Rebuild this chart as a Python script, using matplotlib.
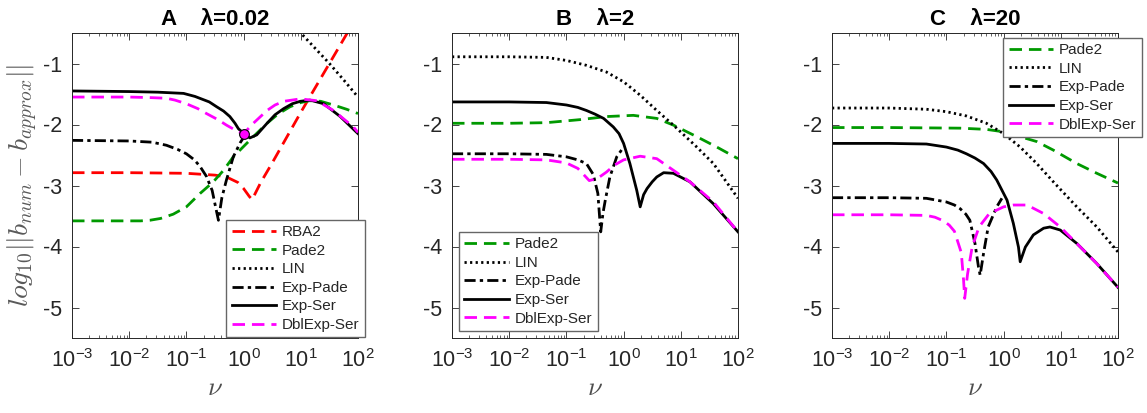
import numpy as np
import matplotlib
matplotlib.use('Agg')
import matplotlib.pyplot as plt
from matplotlib.ticker import LogLocator

plt.rcParams['font.family'] = ['Liberation Sans', 'DejaVu Sans']
plt.rcParams['mathtext.fontset'] = 'custom'
plt.rcParams['mathtext.rm'] = 'Liberation Sans'
plt.rcParams['mathtext.it'] = 'Liberation Sans:italic'
plt.rcParams['mathtext.bf'] = 'Liberation Sans:bold'

#%% data (log10 of nu, log10 of error)

# panel A, lambda=0.02
A_rba2_x = [-3, -2, -1, -0.5, -0.3, -0.1, 0.0, 0.1, 0.15, 0.3, 0.5, 1.0, 1.5, 2.0]
A_rba2_y = [-2.79, -2.79, -2.80, -2.83, -2.86, -2.95, -3.05, -3.18, -3.23, -2.95, -2.63, -1.80, -1.0, -0.2]
A_pade_x = [-3, -2, -1.8, -1.64, -1.45, -1.23, -1.0, -0.76, -0.53, -0.35, -0.18, 0.0, 0.17, 0.41, 0.6, 0.81, 1.0, 1.15, 1.35, 1.57, 1.8, 2.0]
A_pade_y = [-3.58, -3.58, -3.58, -3.57, -3.54, -3.47, -3.35, -3.13, -2.94, -2.75, -2.53, -2.36, -2.20, -1.98, -1.83, -1.71, -1.64, -1.61, -1.62, -1.68, -1.75, -1.82]
A_lin_x = [0.9, 1.0, 1.25, 1.5, 1.75, 2.0]
A_lin_y = [-0.40, -0.50, -0.75, -1.0, -1.27, -1.55]
A_exppade_x = [-3, -2, -1.6, -1.35, -1.15, -1.0, -0.86, -0.76, -0.65, -0.55, -0.49, -0.44, -0.38, -0.30, -0.18, -0.06, 0.03]
A_exppade_y = [-2.26, -2.27, -2.29, -2.34, -2.41, -2.48, -2.58, -2.69, -2.85, -3.08, -3.35, -3.57, -3.20, -2.91, -2.53, -2.30, -2.17]
A_expser_x = [-3, -2, -1.5, -1.05, -0.85, -0.6, -0.47, -0.35, -0.24, -0.15, -0.09, 0.03, 0.11, 0.23, 0.41, 0.55, 0.70, 0.85, 0.99, 1.16, 1.40, 1.69, 2.0]
A_expser_y = [-1.45, -1.46, -1.47, -1.49, -1.54, -1.63, -1.71, -1.78, -1.87, -1.98, -2.07, -2.17, -2.22, -2.17, -1.98, -1.84, -1.74, -1.66, -1.62, -1.60, -1.66, -1.87, -2.15]
A_dbl_x = [-3, -2, -1.6, -1.35, -1.2, -1.0, -0.8, -0.65, -0.45, -0.30, -0.15, -0.06, 0.0, 0.17, 0.41, 0.55, 0.70, 0.99, 1.28, 1.57, 1.92, 2.0]
A_dbl_y = [-1.55, -1.55, -1.56, -1.57, -1.60, -1.66, -1.74, -1.82, -1.92, -2.01, -2.09, -2.13, -2.15, -1.98, -1.77, -1.68, -1.62, -1.58, -1.61, -1.77, -2.04, -2.13]
A_dot_x = [0.0]
A_dot_y = [-2.15]

# panel B, lambda=2
B_pade_x = [-3, -2, -1.35, -0.76, -0.30, 0.17, 0.58, 0.87, 1.28, 1.63, 2.0]
B_pade_y = [-1.98, -1.98, -1.97, -1.92, -1.87, -1.85, -1.90, -2.01, -2.20, -2.37, -2.56]
B_lin_x = [-3, -2, -1.35, -1.0, -0.65, -0.30, 0.0, 0.29, 0.58, 0.87, 1.28, 1.57, 2.0]
B_lin_y = [-0.89, -0.89, -0.90, -0.95, -1.03, -1.14, -1.30, -1.52, -1.77, -2.01, -2.37, -2.64, -3.21]
B_exppade_x = [-3, -2, -1.35, -1.0, -0.8, -0.65, -0.53, -0.45, -0.42, -0.40, -0.36, -0.32, -0.24, -0.12, 0.0]
B_exppade_y = [-2.48, -2.48, -2.49, -2.53, -2.58, -2.64, -2.82, -3.13, -3.51, -3.76, -3.45, -3.24, -2.86, -2.53, -2.37]
B_expser_x = [-3, -2, -1.35, -1.0, -0.8, -0.65, -0.5, -0.35, -0.18, -0.08, 0.0, 0.11, 0.23, 0.29, 0.35, 0.41, 0.50, 0.58, 0.70, 0.87, 1.16, 1.57, 2.0]
B_expser_y = [-1.63, -1.63, -1.64, -1.68, -1.72, -1.77, -1.83, -1.90, -2.04, -2.15, -2.31, -2.64, -3.08, -3.35, -3.15, -3.05, -2.94, -2.86, -2.79, -2.80, -2.94, -3.30, -3.76]
B_dbl_x = [-3, -2, -1.35, -1.0, -0.80, -0.60, -0.45, -0.30, -0.15, 0.0, 0.29, 0.58, 0.87, 1.16, 1.57, 2.0]
B_dbl_y = [-2.57, -2.57, -2.58, -2.63, -2.72, -2.92, -2.88, -2.78, -2.66, -2.58, -2.52, -2.56, -2.75, -2.94, -3.27, -3.76]

# panel C, lambda=20
C_pade_x = [-3, -2, -0.76, -0.30, 0.0, 0.29, 0.58, 0.87, 1.28, 1.63, 2.0]
C_pade_y = [-2.05, -2.05, -2.06, -2.08, -2.12, -2.20, -2.28, -2.42, -2.64, -2.80, -2.96]
C_lin_x = [-3, -2, -1.35, -1.0, -0.65, -0.30, 0.0, 0.29, 0.58, 0.87, 1.28, 1.63, 2.0]
C_lin_y = [-1.73, -1.73, -1.75, -1.79, -1.86, -1.98, -2.15, -2.37, -2.64, -2.94, -3.35, -3.68, -4.09]
C_exppade_x = [-3, -2, -1.35, -1.0, -0.86, -0.76, -0.66, -0.59, -0.50, -0.44, -0.41, -0.35, -0.27, -0.12, -0.03]
C_exppade_y = [-3.20, -3.20, -3.21, -3.27, -3.32, -3.38, -3.47, -3.57, -3.95, -4.33, -4.47, -4.11, -3.68, -3.35, -3.21]
C_expser_x = [-3, -2, -1.35, -1.0, -0.8, -0.65, -0.5, -0.35, -0.22, -0.12, 0.06, 0.17, 0.26, 0.29, 0.38, 0.52, 0.70, 0.81, 0.99, 1.28, 1.63, 2.0]
C_expser_y = [-2.31, -2.31, -2.32, -2.37, -2.42, -2.48, -2.55, -2.64, -2.77, -2.91, -3.24, -3.62, -4.01, -4.25, -4.01, -3.81, -3.70, -3.68, -3.73, -3.95, -4.28, -4.67]
C_dbl_x = [-3, -2, -1.35, -1.2, -1.05, -0.95, -0.86, -0.74, -0.70, -0.68, -0.63, -0.55, -0.43, -0.25, 0.0, 0.17, 0.41, 0.70, 0.99, 1.28, 1.63, 2.0]
C_dbl_y = [-3.48, -3.48, -3.49, -3.52, -3.58, -3.65, -3.75, -4.10, -4.55, -4.85, -4.45, -4.01, -3.68, -3.46, -3.35, -3.32, -3.32, -3.46, -3.68, -3.95, -4.28, -4.67]

titles = ['A    \u03bb=0.02', 'B    \u03bb=2', 'C    \u03bb=20']

#%% styles
red = (1, 0, 0)
green = (0, 0.6, 0)
mag = (1, 0, 1)
dash = (0, (4.5, 2.5))
dot = (0, (0.8, 1.2))
dashdot = (0, (4.0, 1.5, 1.2, 1.5))
lw = 2.0
gray = (0.15, 0.15, 0.15)


def curve(ax, xs, ys, **kw):
    ax.plot(10.0 ** np.array(xs), ys, lw=lw, **kw)


fig = plt.figure(figsize=(11.47, 4.13), dpi=100)
lefts = [72 / 1147, 452 / 1147, 832 / 1147]
axs = [fig.add_axes([l, 75 / 413, 286 / 1147, 305 / 413]) for l in lefts]
leg_kw = dict(fontsize=11, labelspacing=0.3, handlelength=2.9, handletextpad=0.4,
              borderpad=0.35, borderaxespad=0, fancybox=False, framealpha=1,
              edgecolor=(0.4, 0.4, 0.4))

ax = axs[0]
curve(ax, A_rba2_x, A_rba2_y, color=red, ls=dash, label='RBA2')
curve(ax, A_pade_x, A_pade_y, color=green, ls=dash, label='Pade2')
curve(ax, A_lin_x, A_lin_y, color='k', ls=dot, label='LIN')
curve(ax, A_exppade_x, A_exppade_y, color='k', ls=dashdot, label='Exp-Pade')
curve(ax, A_expser_x, A_expser_y, color='k', ls='-', label='Exp-Ser')
curve(ax, A_dbl_x, A_dbl_y, color=mag, ls=dash, label='DblExp-Ser')
ax.plot(10.0 ** np.array(A_dot_x), A_dot_y, 'o', ms=7, mfc=mag, mec='k', mew=0.8)
ax.legend(loc='lower right', bbox_to_anchor=(1.025, 0.002), **leg_kw)

ax = axs[1]
curve(ax, B_pade_x, B_pade_y, color=green, ls=dash, label='Pade2')
curve(ax, B_lin_x, B_lin_y, color='k', ls=dot, label='LIN')
curve(ax, B_exppade_x, B_exppade_y, color='k', ls=dashdot, label='Exp-Pade')
curve(ax, B_expser_x, B_expser_y, color='k', ls='-', label='Exp-Ser')
curve(ax, B_dbl_x, B_dbl_y, color=mag, ls=dash, label='DblExp-Ser')
ax.legend(loc='lower left', bbox_to_anchor=(0.024, 0.023), **leg_kw)

ax = axs[2]
curve(ax, C_pade_x, C_pade_y, color=green, ls=dash, label='Pade2')
curve(ax, C_lin_x, C_lin_y, color='k', ls=dot, label='LIN')
curve(ax, C_exppade_x, C_exppade_y, color='k', ls=dashdot, label='Exp-Pade')
curve(ax, C_expser_x, C_expser_y, color='k', ls='-', label='Exp-Ser')
curve(ax, C_dbl_x, C_dbl_y, color=mag, ls=dash, label='DblExp-Ser')
ax.legend(loc='upper right', bbox_to_anchor=(1.084, 0.984), **leg_kw)

for i, ax in enumerate(axs):
    ax.set_xscale('log')
    ax.set_xlim(1e-3, 1e2)
    ax.set_ylim(-5.5, -0.5)
    ax.set_yticks([-5, -4, -3, -2, -1])
    ax.set_yticklabels(['-5', '-4', '-3', '-2', '-1'])
    ax.xaxis.set_major_locator(LogLocator(base=10, numticks=10))
    ax.xaxis.set_minor_locator(LogLocator(base=10, subs=np.arange(2, 10), numticks=20))
    ax.tick_params(which='both', direction='in', top=True, right=True, colors=gray, labelsize=15.5)
    ax.tick_params(which='major', length=5, width=0.6)
    ax.tick_params(which='minor', length=2.5, width=0.5)
    ax.tick_params(axis='x', pad=8)
    ax.tick_params(axis='y', pad=7)
    for s in ax.spines.values():
        s.set_color(gray)
        s.set_linewidth(0.7)
    ax.set_title(titles[i], fontsize=16, fontweight='bold', pad=6)
    ax.set_xlabel(r'$\nu$', fontsize=19, color=(0.3, 0.3, 0.3), math_fontfamily='cm', labelpad=3)
    for t in ax.get_legend().get_texts():
        t.set_color(gray)

axs[0].set_ylabel(r'$log_{10}||b_{num}-b_{approx}||$', fontsize=20, color=(0.35, 0.35, 0.35),
                  math_fontfamily='cm', labelpad=2)

fig.savefig('out.png', dpi=100)
